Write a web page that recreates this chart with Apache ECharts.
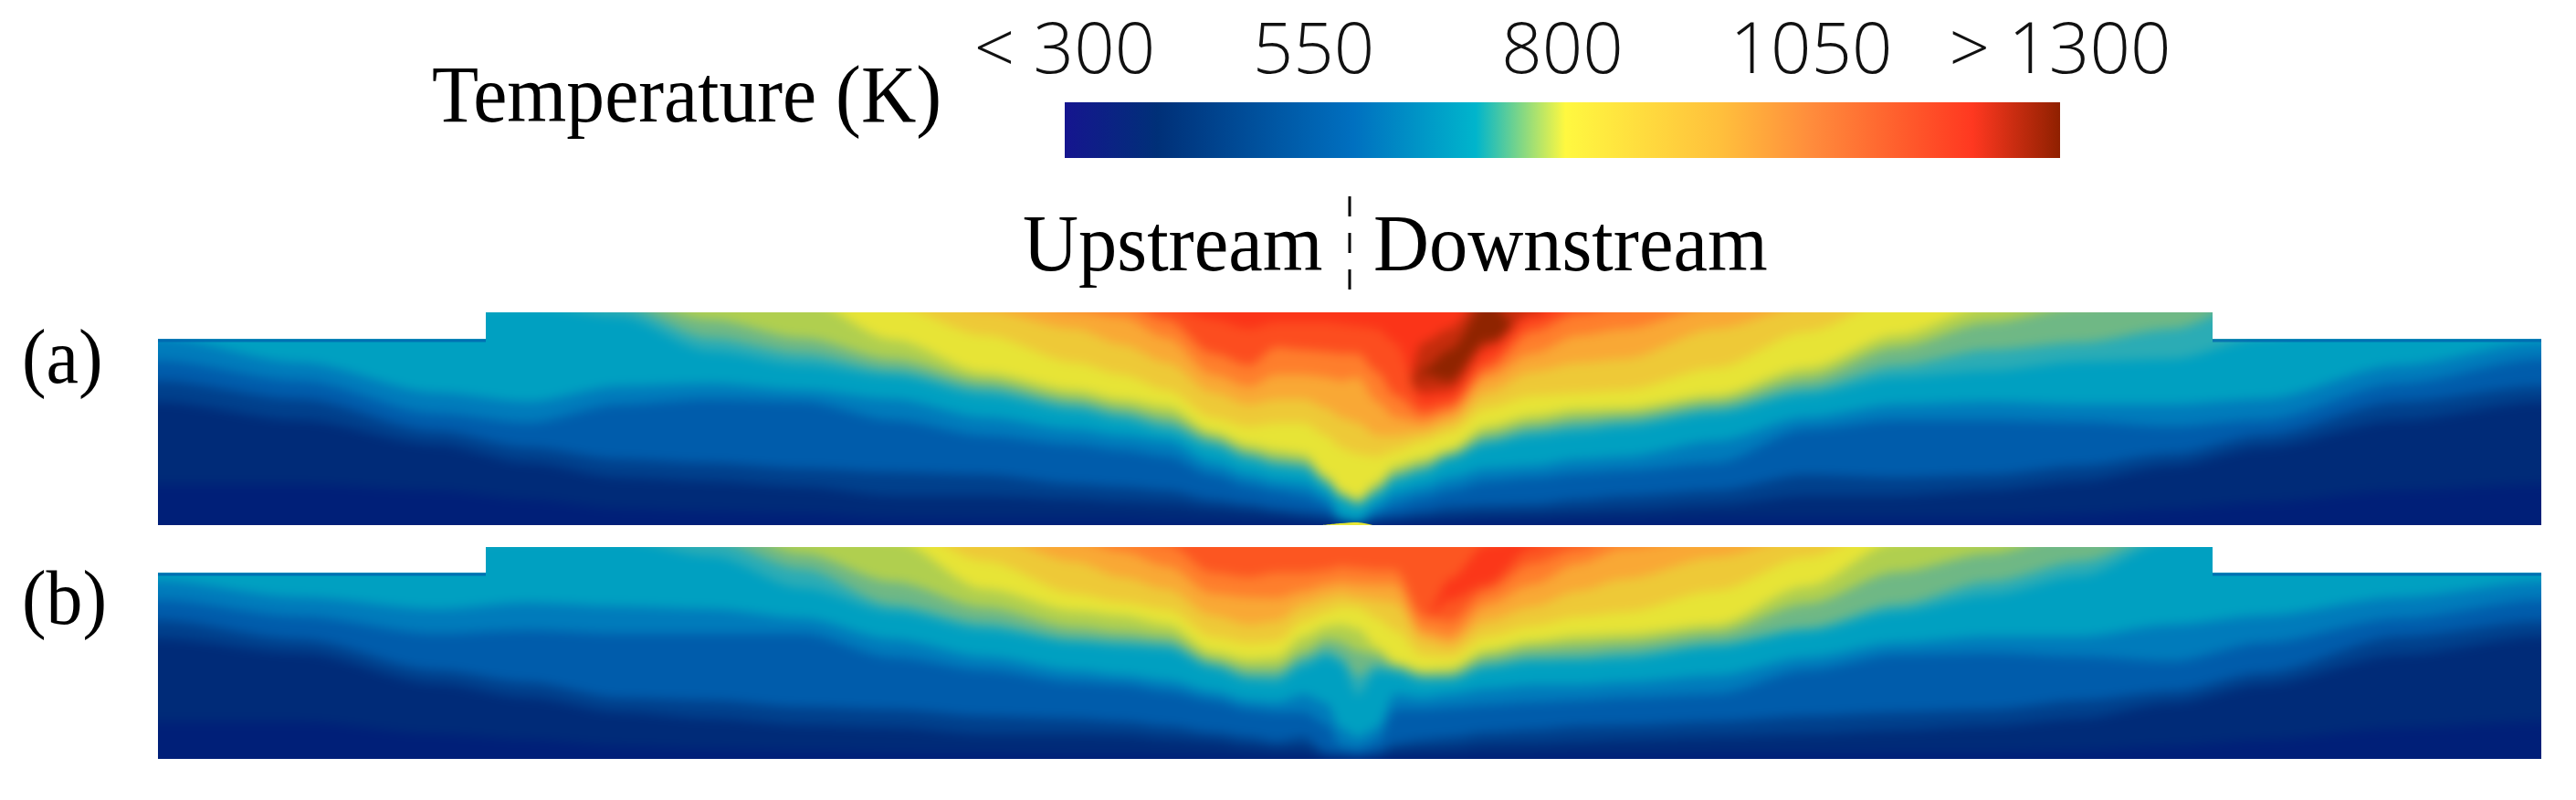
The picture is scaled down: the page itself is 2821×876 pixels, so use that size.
<!DOCTYPE html>
<html>
<head>
<meta charset="utf-8">
<title>Temperature field</title>
<script src="https://cdn.jsdelivr.net/npm/echarts@6/dist/echarts.min.js"></script>
<style>
  html, body { margin: 0; padding: 0; background: #fff; }
  #page { position: relative; width: 2821px; height: 876px; overflow: hidden; }
  #chart { position: absolute; left: 0; top: 0; width: 2821px; height: 876px; }
  .panel { position: absolute; left: 173px; width: 2610px; overflow: hidden; }
  .field { position: absolute; left: -20px; top: -20px; width: 2650px; filter: blur(6px); }
  #panelA { top: 342px; height: 233px; }
  #panelB { top: 599px; height: 232px; }
  #fieldA { height: 273px; }
  #fieldB { height: 272px; }
</style>
</head>
<body>
<div id="page">
  <div class="panel" id="panelA"><div class="field" id="fieldA"></div></div>
  <div class="panel" id="panelB"><div class="field" id="fieldB"></div></div>
  <div id="chart"></div>
</div>
<script>
// axial stations, px from the domain centre (upstream < 0 < downstream)
const stations = [-1305,-1150,-1000,-900,-800,-700,-600,-500,-400,-300,-250,-200,-150,-110,-80,-50,-25,-10,9,30,50,80,110,150,200,250,300,400,500,600,700,800,900,1000,1150,1305];

// colour bar
const tickLabels = ['< 300', '550', '800', '1050', '> 1300'];
const barLevel = [1, 1, 1, 1, 1];

// wall outline of each panel (axial position, height)
const outlineX = [-1305, -946, -946, 945, 945, 1305];
const outlineA = [204, 204, 233, 233, 204, 204];
const outlineB = [204, 204, 232, 232, 204, 204];

// height of each isotherm above the floor. Panel (a)
const a340 = [45,45,38,28,18,15,13,8,7,7,7,5,4,3,3,2,1,1,0.5,1,2,3,4,5,5,6,6,8,8,8,8,12,18,25,38,45];
const a420 = [135,115,88,68,52,48,42,32,32,28,25,23,18,15,12,8,5,3,1,4,6,8,10,12,13,15,17,22,32,32,38,48,65,85,115,135];
const a500 = [158,138,103,85,72,68,62,58,55,45,42,38,28,23,18,15,12,4,1.5,8,10,15,20,22,23,28,32,38,55,52,55,65,78,98,135,152];
const a590 = [180,158,122,112,132,138,135,115,98,88,82,75,55,43,37,32,22,6,2,13,22,30,38,48,52,57,60,68,105,115,115,113,108,115,155,182];
const a650 = [205,178,145,135,152,155,148,138,118,105,98,92,68,55,48,45,32,8,3,22,35,42,52,62,65,72,75,92,118,132,135,132,132,138,175,200];
const a710 = [240,240,235,240,228,190,175,163,142,125,115,103,85,70,63,60,42,28,20,32,48,57,72,88,97,102,107,122,143,162,169,179,182,205,240,240];
const a750 = [260,260,255,250,240,205,188,170,150,132,122,111,91,76,68,65,46,31,23,36,53,61,75,93,104,110,114,128,150,175,192,200,215,250,260,260];
const a775 = [300,300,280,260,250,225,205,182,158,139,129,119,97,81,74,71,50,34,26,41,58,67,79,100,111,118,121,135,161,195,222,240,260,280,300,300];
const a800 = [320,320,300,300,300,275,248,203,167,148,138,130,102,88,82,78,55,38,29,47,65,73,83,108,120,127,128,142,172,208,240,270,300,300,320,320];
const a880 = [340,340,340,340,340,320,300,240,208,178,165,148,118,108,112,112,98,85,78,75,82,92,102,128,142,145,148,172,212,250,280,320,340,340,340,340];
const a960 = [360,360,360,360,360,340,320,270,235,215,198,178,145,132,138,138,128,118,112,98,98,102,112,145,168,178,182,215,240,270,300,340,360,360,360,360];
const a1050 = [380,380,380,380,380,360,340,300,260,235,228,205,165,152,165,165,162,158,162,135,118,112,122,162,188,208,215,240,270,300,320,360,380,380,380,380];
const a1130 = [400,400,400,400,400,380,360,320,280,260,245,225,188,175,195,192,190,188,188,168,142,122,130,172,212,232,240,260,290,320,340,380,400,400,400,400];
const a1210 = [420,420,420,420,420,400,380,340,300,280,262,240,225,215,222,222,222,220,218,215,200,132,138,182,225,245,260,285,310,340,360,400,420,420,420,420];
// hot core of (a): it sits inside the red zone, so it has a lower and an upper edge
const a1260Low = [390,390,390,390,390,370,350,310,270,250,232,210,195,185,192,192,192,190,188,185,170,145,148,195,233,215,230,255,280,310,330,370,390,390,390,390];
const a1300Low = [100,100,100,100,100,100,100,100,100,100,100,100,100,100,100,100,100,100,100,100,100,165,158,202,200,100,100,100,100,100,100,100,100,100,100,100];
const a1300Up = [100,100,100,100,100,100,100,100,100,100,100,100,100,100,100,100,100,100,100,100,100,170,192,245,200,100,100,100,100,100,100,100,100,100,100,100];
const a1260Up = [100,100,100,100,100,100,100,100,100,100,100,100,100,100,100,100,100,100,100,100,100,200,215,260,250,100,100,100,100,100,100,100,100,100,100,100];
// hot slit on the floor of (a), right under the V
const inletX = [-30, -10, 9, 25];
const inletA = [0, 2, 3, 0];

// panel (b)
const b340 = [41,41,27,21,14,11,9,7,6,5,5,4,3,2,2,2,1,1,1,1,2,3,3,4,4,5,5,6,6,7,7,9,14,21,34,41];
const b420 = [132,116,82,67,51,44,37,34,27,27,26,22,19,14,11,12,3,2,2,3,9,11,12,16,17,19,21,24,27,31,36,44,61,81,114,134];
const b500 = [152,131,97,84,67,64,57,54,47,44,41,36,29,24,19,24,7,6,3,7,17,21,24,29,32,36,37,41,47,51,54,64,74,94,134,151];
const b590 = [174,156,137,141,137,137,137,111,97,84,81,74,64,54,51,51,37,14,11,19,54,54,56,59,62,64,67,71,97,114,116,112,107,127,154,174];
const b650 = [195,177,164,171,167,164,154,131,112,97,92,86,74,64,62,71,61,34,24,34,71,67,71,77,81,81,84,91,111,127,134,134,147,157,177,194];
const b710 = [240,240,235,240,240,222,187,161,141,127,123,120,99,86,84,101,112,105,70,96,94,84,86,99,106,107,109,122,139,161,179,200,240,260,260,260];
const b750 = [260,260,260,260,260,240,208,169,149,132,129,126,104,91,91,109,119,112,90,103,99,90,89,104,111,112,116,127,144,169,194,216,250,270,270,270];
const b775 = [280,280,280,280,280,260,225,194,166,144,139,134,109,99,99,117,131,128,118,114,102,93,94,112,121,124,127,138,170,205,225,250,270,280,280,280];
const b800 = [300,300,300,300,300,280,260,240,186,162,157,147,117,109,111,134,145,147,142,122,106,97,99,119,129,135,137,147,189,238,270,300,300,300,300,300];
const b880 = [320,320,320,320,320,300,280,260,217,181,172,164,134,127,129,151,161,167,166,154,141,114,112,134,146,156,161,184,221,260,280,320,320,320,320,320];
const b960 = [340,340,340,340,340,320,300,280,245,216,199,186,157,147,151,169,177,181,177,174,171,131,124,151,167,184,197,221,245,280,300,340,340,340,340,340];
const b1050 = [360,360,360,360,360,340,320,300,270,240,227,211,181,177,176,184,191,194,192,191,191,141,134,169,191,214,231,245,270,300,320,360,360,360,360,360];
const b1130 = [380,380,380,380,380,360,340,320,290,260,250,235,204,199,204,204,207,211,209,207,207,157,151,184,214,231,250,270,290,320,340,380,380,380,380,380];
// red streak of (b), lower and upper edge
const b1210Low = [360,360,360,360,360,340,320,300,270,240,230,215,184,179,184,184,187,191,189,187,187,150,174,191,232,211,230,250,270,300,320,360,360,360,360,360];
const b1210Up = [100,100,100,100,100,100,100,100,100,100,100,100,100,100,100,100,100,100,100,100,100,150,197,235,245,100,100,100,100,100,100,100,100,100,100,100];

// colour scale
const fieldTemps = [300,400,590,710,750,775,800,950,1050,1210,1300];
const fieldColors = ['#001a78','#002e78','#0068b8','#00a8c2','#55b0a8','#8cc060','#e6e636','#f2bd38','#ff9633','#fb3418','#8f2400'];
const barStops = [0,0.093,0.29,0.413,0.503,0.658,0.75,0.912,1];
const barColors = ['#15158f','#003078','#0070c0','#00b5cc','#fff840','#ffc03c','#ff8c3c','#ff3820','#8f2000'];

function fieldColor(t) {
  let i = 1;
  while (i < fieldTemps.length - 1 && t > fieldTemps[i]) i++;
  const f = (t - fieldTemps[i - 1]) / (fieldTemps[i] - fieldTemps[i - 1]);
  return echarts.color.lerp(f, [fieldColors[i - 1], fieldColors[i]]);
}

// every layer: the colour temperature painted below that curve. hottest first
const layersA = [
  [1255,a1260Up],[1300,a1300Up],[1255,a1300Low],[1205,a1260Low],
  [1170,a1210],[1090,a1130],[1005,a1050],[905,a960],[808,a880],[785,a800],
  [762,a775],[730,a750],[695,a710],[625,a650],[550,a590],[460,a500],[385,a420],[325,a340]
];
const layersB = [
  [1205,b1210Up],[1155,b1210Low],
  [1090,b1130],[1005,b1050],[905,b960],[808,b880],[785,b800],
  [762,b775],[730,b750],[695,b710],[625,b650],[550,b590],[460,b500],[385,b420],[325,b340]
];

// the field canvas is 20px larger than its panel on each side, so the soft
// edge of the blur falls outside the clip
const PAD = 20;
function drawField(id, layers, topTemp, height) {
  const chart = echarts.init(document.getElementById(id), null, { renderer: 'canvas' });
  chart.setOption({
    animation: false,
    backgroundColor: fieldColor(topTemp),
    grid: { left: 0, right: 0, top: 0, bottom: 0 },
    xAxis: { type: 'value', min: -1305 - PAD, max: 1305 + PAD, show: false },
    yAxis: { type: 'value', min: -PAD, max: height + PAD, show: false },
    series: layers.map(([t, h]) => ({
      type: 'line', silent: true, symbol: 'none',
      smooth: 0.3, smoothMonotone: 'x',
      lineStyle: { width: 0 },
      areaStyle: { color: fieldColor(t), opacity: 1, origin: 'start' },
      data: [[-1305 - PAD, h[0]], ...stations.map((x, i) => [x, h[i]]), [1305 + PAD, h[h.length - 1]]]
    }))
  });
}
drawField('fieldA', layersA, 1210, 233);
drawField('fieldB', layersB, 1155, 232);

function maskSeries(outline, idx) {
  return {
    type: 'line', xAxisIndex: idx, yAxisIndex: idx, silent: true, symbol: 'none',
    lineStyle: { width: 0 },
    areaStyle: { color: '#fff', opacity: 1, origin: 'end' },
    data: outlineX.map((x, i) => [x, outline[i]])
  };
}

// thin darker line the render shows along the lower wall
function wallEdge(outline, idx, from, to) {
  return {
    type: 'line', xAxisIndex: idx, yAxisIndex: idx, silent: true, symbol: 'none',
    lineStyle: { width: 3, color: 'rgba(0,98,174,0.75)' },
    data: [[outlineX[from], outline[from] - 2], [outlineX[to], outline[to] - 2]]
  };
}

const serif = '"Liberation Serif", serif';
function label(text, x, y, size, sx) {
  return { type: 'text', x: x, y: y, scaleX: sx, style: { text: text, font: size + 'px ' + serif, fill: '#000', verticalAlign: 'middle' } };
}

const chart = echarts.init(document.getElementById('chart'), null, { renderer: 'canvas' });
chart.setOption({
  animation: false,
  backgroundColor: 'transparent',
  grid: [
    { left: 1166, top: 112, width: 1090, height: 61 },
    { left: 173, top: 342, width: 2610, height: 233 },
    { left: 173, top: 599, width: 2610, height: 232 }
  ],
  xAxis: [
    { gridIndex: 0, type: 'category', position: 'top', boundaryGap: false, data: tickLabels,
      axisLine: { show: false }, axisTick: { show: false },
      axisLabel: { interval: 0, margin: 15, color: '#111', fontFamily: 'Open Sans', fontWeight: 300, fontSize: 78 } },
    { gridIndex: 1, type: 'value', min: -1305, max: 1305, show: false },
    { gridIndex: 2, type: 'value', min: -1305, max: 1305, show: false }
  ],
  yAxis: [
    { gridIndex: 0, type: 'value', min: 0, max: 1, show: false },
    { gridIndex: 1, type: 'value', min: 0, max: 233, show: false },
    { gridIndex: 2, type: 'value', min: 0, max: 232, show: false }
  ],
  series: [
    { type: 'line', xAxisIndex: 0, yAxisIndex: 0, silent: true, symbol: 'none', lineStyle: { width: 0 },
      areaStyle: { opacity: 1, color: new echarts.graphic.LinearGradient(0, 0, 1, 0,
        barStops.map((s, i) => ({ offset: s, color: barColors[i] }))) },
      data: barLevel },
    maskSeries(outlineA, 1), wallEdge(outlineA, 1, 0, 1), wallEdge(outlineA, 1, 4, 5),
    { type: 'line', xAxisIndex: 1, yAxisIndex: 1, silent: true, symbol: 'none', smooth: 0.3,
      lineStyle: { width: 0 }, areaStyle: { color: fieldColor(800), opacity: 1, origin: 'start' },
      data: inletX.map((x, i) => [x, inletA[i]]) },
    maskSeries(outlineB, 2), wallEdge(outlineB, 2, 0, 1), wallEdge(outlineB, 2, 4, 5)
  ],
  graphic: [
    label('Temperature (K)', 473, 110, 88, 0.95),
    label('Upstream', 1120, 273, 88, 0.96),
    label('Downstream', 1504, 273, 88, 0.96),
    label('(a)', 24, 397, 84, 0.95),
    label('(b)', 24, 661, 84, 0.95),
    { type: 'line', shape: { x1: 1478, y1: 215, x2: 1478, y2: 317 },
      style: { stroke: '#000', lineWidth: 3, lineDash: [22, 18] } }
  ]
});
</script>
</body>
</html>
